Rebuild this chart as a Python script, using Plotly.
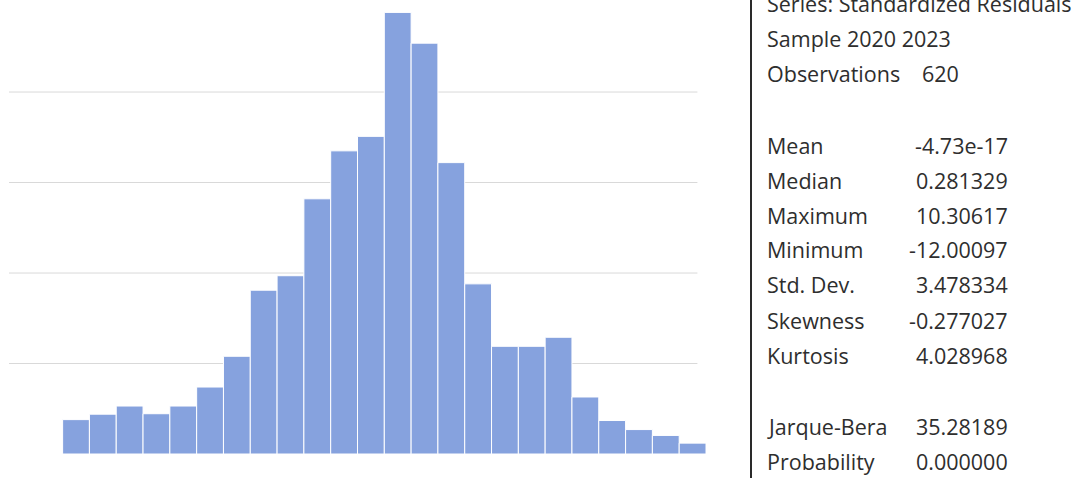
import plotly.graph_objects as go

# ---- data ----
bin_index = list(range(1, 25))
counts = [3.8, 4.4, 5.3, 4.45, 5.3, 7.4, 10.8, 18.1, 19.7, 28.2, 33.5, 35.1,
          48.8, 45.4, 32.2, 18.8, 11.9, 11.9, 12.9, 6.3, 3.7, 2.7, 2.05, 1.2]
grid_levels = [0, 10, 20, 30, 40]

stat_labels = ["Mean", "Median", "Maximum", "Minimum", "Std. Dev.",
               "Skewness", "Kurtosis", "Jarque-Bera", "Probability"]
stat_values = ["-4.73e-17", "0.281329", "10.30617", "-12.00097", "3.478334",
               "-0.277027", "4.028968", "35.28189", "0.000000"]
header_lines = ["Series: Standardized Residuals", "Sample 2020 2023", "Observations"]
observations = "620"

# ---- layout helpers (pixel -> paper) ----
W, H = 1078, 484
L, R_EDGE, T, B_EDGE = 9, 706, 0, 454
def xp(px):
    return (px - L) / (R_EDGE - L)
def yp(py):
    return (B_EDGE - py) / (B_EDGE - T)

fig = go.Figure()
fig.add_trace(go.Bar(
    x=bin_index, y=counts,
    marker=dict(color="#86A2DE", line=dict(color="white", width=1)),
    width=1.0, showlegend=False, hoverinfo="skip"))

shapes = []
for g in grid_levels:
    shapes.append(dict(type="line", xref="x", yref="y", x0=-1.5 if g > 0 else 0.5, x1=24.18,
                       y0=g, y1=g, layer="below",
                       line=dict(color="#f0f0f0" if g == 0 else "#d9d9d9", width=1)))
# vertical separator
shapes.append(dict(type="line", xref="paper", yref="paper", x0=xp(751), x1=xp(751),
                   y0=yp(-2), y1=yp(478), line=dict(color="#2a2a2a", width=2)))

font_fam = "Open Sans"
fsize = 21.5
tcolor = "#2e2e2e"
ann = []
header_centers = [3, 38.5, 73.5]
for txt, cy in zip(header_lines, header_centers):
    ann.append(dict(text=txt, x=xp(766), y=yp(cy), xref="paper", yref="paper",
                    xanchor="left", yanchor="middle", showarrow=False, borderpad=0,
                    font=dict(family=font_fam, size=fsize, color=tcolor)))
ann.append(dict(text=observations, x=xp(921), y=yp(73.5), xref="paper", yref="paper",
                xanchor="left", yanchor="middle", showarrow=False, borderpad=0,
                font=dict(family=font_fam, size=fsize, color=tcolor)))
stat_centers = [145.2, 180.8, 215.2, 249.5, 284.8, 320.2, 355.8, 426.8, 461.8]
for lab, val, cy in zip(stat_labels, stat_values, stat_centers):
    ann.append(dict(text=lab, x=xp(766), y=yp(cy), xref="paper", yref="paper",
                    xanchor="left", yanchor="middle", showarrow=False, borderpad=0,
                    font=dict(family=font_fam, size=fsize, color=tcolor)))
    ann.append(dict(text=val, x=xp(1009), y=yp(cy), xref="paper", yref="paper",
                    xanchor="right", yanchor="middle", showarrow=False, borderpad=0,
                    font=dict(family=font_fam, size=fsize, color=tcolor)))

fig.update_layout(
    width=W, height=H,
    margin=dict(l=L, r=W - R_EDGE, t=T, b=H - B_EDGE, autoexpand=False),
    paper_bgcolor="white", plot_bgcolor="white",
    bargap=0,
    xaxis=dict(range=[-1.5, 24.5], visible=False, fixedrange=True),
    yaxis=dict(range=[0, 50.17], visible=False, showgrid=False, fixedrange=True),
    shapes=shapes, annotations=ann,
)

fig.write_html("out.html",
               config={"displayModeBar": False, "staticPlot": True},
               post_script="document.body.style.margin='0';document.body.style.overflow='hidden';")
